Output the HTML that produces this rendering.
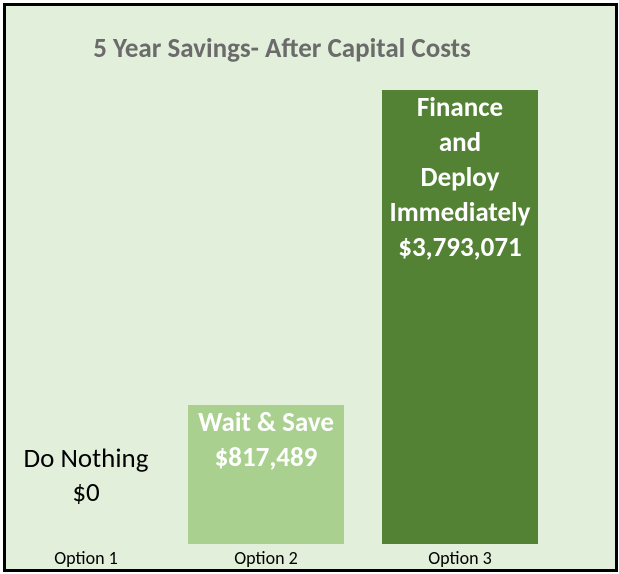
<!DOCTYPE html>
<html><head><style>
html,body{margin:0;padding:0;}
body{width:619px;height:574px;background:#fff;position:relative;overflow:hidden;font-family:Calibri,"Liberation Sans",sans-serif;}
.box{position:absolute;left:3px;top:3px;width:609px;height:563px;border:3px solid #000;background:#e2efda;}
.t{position:absolute;text-align:center;white-space:nowrap;}
</style></head><body>
<div class="box"></div>
<div class="t" style="left:0;width:564px;top:32px;font-size:27px;font-weight:bold;color:#6b6b6b;">5 Year Savings- After Capital Costs</div>
<div style="position:absolute;left:188px;top:405px;width:156px;height:139px;background:#a9d08e;"></div>
<div style="position:absolute;left:382px;top:90px;width:156px;height:454px;background:#548235;"></div>
<div class="t" style="left:0;width:172px;top:442px;font-size:27px;line-height:34px;color:#000;">Do Nothing<br>$0</div>
<div class="t" style="left:188px;width:156px;top:405px;font-size:27px;line-height:35px;font-weight:bold;color:#fff;">Wait &amp; Save<br>$817,489</div>
<div class="t" style="left:382px;width:156px;top:90px;font-size:27px;line-height:35px;font-weight:bold;color:#fff;">Finance<br>and<br>Deploy<br>Immediately<br>$3,793,071</div>
<div class="t" style="left:36px;width:100px;top:547px;font-size:18px;">Option 1</div>
<div class="t" style="left:216px;width:100px;top:547px;font-size:18px;">Option 2</div>
<div class="t" style="left:410px;width:100px;top:547px;font-size:18px;">Option 3</div>
</body></html>
